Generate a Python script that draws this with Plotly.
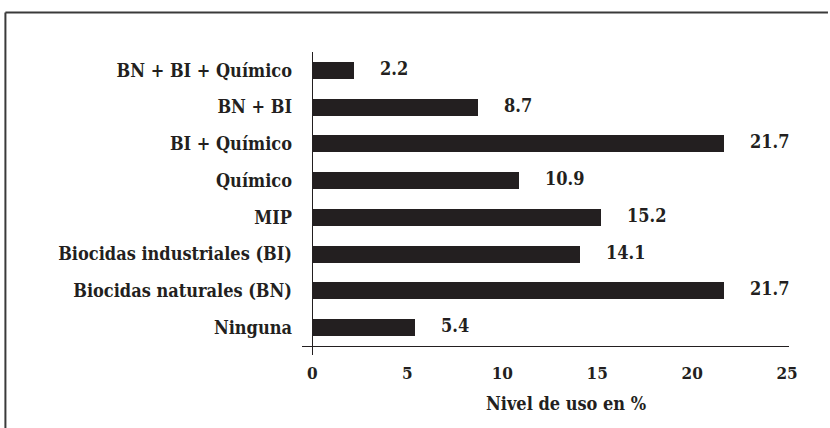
import plotly.graph_objects as go

# Pest-control strategies (bottom to top) and share of use in %
categories = [
    "Ninguna",
    "Biocidas naturales (BN)",
    "Biocidas industriales (BI)",
    "MIP",
    "Químico",
    "BI + Químico",
    "BN + BI",
    "BN + BI + Químico",
]
values = [5.4, 21.7, 14.1, 15.2, 10.9, 21.7, 8.7, 2.2]
x_ticks = [0, 5, 10, 15, 20, 25]

INK = "#231f20"
FONT = "DejaVu Serif Condensed, DejaVu Serif"

fig = go.Figure()
fig.add_trace(go.Bar(
    x=values,
    y=categories,
    orientation="h",
    marker=dict(color=INK, line=dict(width=0)),
    width=0.46,
    hoverinfo="skip",
))

# value labels to the right of each bar
for cat, v in zip(categories, values):
    fig.add_annotation(
        x=v, y=cat, xref="x", yref="y",
        text=f"<b>{v}</b>", showarrow=False,
        xanchor="left", yanchor="middle",
        xshift=24, yshift=2,
        font=dict(family=FONT, size=18, color=INK),
    )

# axis title
fig.add_annotation(
    x=0.542, y=-0.194, xref="paper", yref="paper",
    text="<b>Nivel de uso en %</b>", showarrow=False,
    xanchor="center", yanchor="middle",
    font=dict(family=FONT, size=18, color=INK),
)

# frame around the figure
frame = dict(color="#3a3a3a", width=2)
fig.add_shape(type="line", xref="paper", yref="paper",
              x0=-0.609, x1=1.08, y0=1.134, y1=1.134, line=frame)
fig.add_shape(type="line", xref="paper", yref="paper",
              x0=-0.609, x1=-0.609, y0=1.134, y1=-0.3, line=frame)

xrange = [-0.55, 25.1]
fig.update_layout(
    width=830, height=428,
    margin=dict(l=302, r=41, t=52, b=82),
    paper_bgcolor="white", plot_bgcolor="white",
    showlegend=False,
    bargap=0,
    xaxis=dict(
        range=xrange,
        tickvals=x_ticks,
        ticktext=[f"<b>{t}</b>" for t in x_ticks],
        showgrid=False,
        zeroline=True, zerolinecolor=INK, zerolinewidth=1.3,
        showline=True, linecolor=INK, linewidth=1.3,
        ticks="", ticklabelstandoff=11,
        tickfont=dict(family=FONT, size=17, color=INK),
    ),
    xaxis2=dict(
        range=xrange, overlaying="x", side="bottom",
        tickvals=[0], ticks="outside", ticklen=8, tickwidth=1.3,
        tickcolor=INK, showticklabels=False, showgrid=False,
        zeroline=False, showline=False,
    ),
    yaxis=dict(
        range=[-0.5, 7.5],
        showgrid=False, zeroline=False, showline=False,
        ticks="", ticklabelstandoff=9,
        tickvals=categories,
        ticktext=[f"<b>{c}</b>" for c in categories],
        tickfont=dict(family=FONT, size=18, color=INK),
    ),
)

# invisible trace to activate the overlay axis carrying the tick at zero
fig.add_trace(go.Scatter(x=[0], y=[categories[0]], xaxis="x2",
                         mode="markers", marker=dict(opacity=0),
                         hoverinfo="skip"))

fig.write_html("out.html")
